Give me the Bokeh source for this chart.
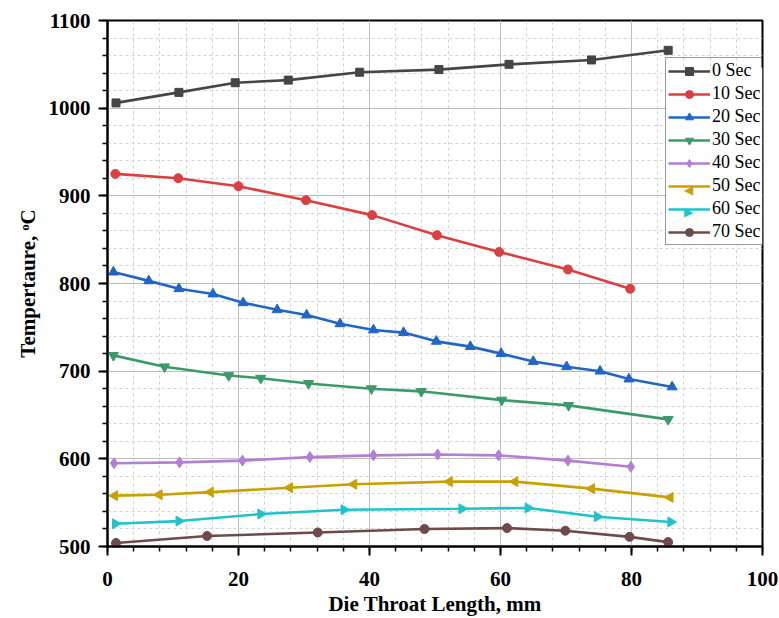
import math
from bokeh.plotting import figure
from bokeh.models import SingleIntervalTicker, Range1d, Legend, Label, BoxAnnotation
from bokeh.embed import file_html
from bokeh.resources import INLINE

# ---- data ----
series_names = ["0 Sec", "10 Sec", "20 Sec", "30 Sec", "40 Sec", "50 Sec", "60 Sec", "70 Sec"]

x0 = [1.3, 10.9, 19.5, 27.6, 38.5, 50.6, 61.3, 73.9, 85.6]
t0 = [1006, 1018, 1029, 1032, 1041, 1044, 1050, 1055, 1066]

x10 = [1.2, 10.8, 20.0, 30.3, 40.4, 50.3, 59.8, 70.3, 79.8]
t10 = [925, 920, 911, 895, 878, 855, 836, 816, 794]

x20 = [0.9, 6.3, 10.9, 16.1, 20.7, 25.9, 30.4, 35.5, 40.6, 45.2, 50.2, 55.4, 60.1, 65.0, 70.1, 75.2, 79.6, 86.2]
t20 = [813, 803, 794, 788, 778, 770, 764, 754, 747, 744, 734, 728, 720, 711, 705, 700, 691, 682]

x30 = [0.9, 8.7, 18.5, 23.4, 30.7, 40.3, 47.9, 60.2, 70.4, 85.6]
t30 = [718, 705, 695, 692, 686, 680, 677, 667, 661, 645]

x40 = [1.0, 11.0, 20.6, 30.9, 40.6, 50.4, 59.7, 70.3, 79.9]
t40 = [595, 596, 598, 602, 604, 605, 604, 598, 591]

x50 = [1.1, 7.9, 15.7, 27.8, 37.6, 52.2, 62.2, 73.9, 85.9]
t50 = [558, 559, 562, 567, 571, 574, 574, 566, 556]

x60 = [1.2, 10.9, 23.4, 36.1, 54.1, 64.2, 74.8, 86.0]
t60 = [526, 529, 537, 542, 543, 544, 534, 528]

x70 = [1.3, 15.2, 32.1, 48.4, 61.0, 69.9, 79.7, 85.6]
t70 = [504, 512, 516, 520, 521, 518, 511, 505]

xs = [x0, x10, x20, x30, x40, x50, x60, x70]
ts = [t0, t10, t20, t30, t40, t50, t60, t70]

colors = ["#454545", "#d9403f", "#2166c4", "#3c9a6a", "#b27fd4", "#c8a000", "#1ec3cc", "#6e4b4b"]
markers = ["square", "circle", "triangle", "inverted_triangle", "diamond", "triangle", "triangle", "circle"]
angles = [0, 0, 0, 0, 0, math.pi / 2, -math.pi / 2, 0]
sizes = [8, 9, 10, 10, 11, 10, 10, 9]
# rotated markers cannot be shown rotated by Legend, so draw them as symbols there
legend_symbols = [None, None, None, None, None, "\u25c0", "\u25b6", None]

FONT = "Liberation Serif"

p = figure(width=779, height=618, output_backend="svg", toolbar_location=None,
           x_range=Range1d(0, 100), y_range=Range1d(500, 1100),
           min_border_left=107, min_border_right=17, min_border_top=20, min_border_bottom=70)

p.background_fill_color = "white"
p.border_fill_color = "white"
p.outline_line_color = "black"
p.outline_line_width = 2
p.outline_line_alpha = 1.0

p.xaxis.ticker = SingleIntervalTicker(interval=20, num_minor_ticks=5)
p.yaxis.ticker = SingleIntervalTicker(interval=100, num_minor_ticks=5)

for ax in (p.xaxis[0], p.yaxis[0]):
    ax.axis_line_color = "black"
    ax.axis_line_width = 2
    ax.major_tick_line_color = "black"
    ax.major_tick_line_width = 2
    ax.minor_tick_line_color = "black"
    ax.minor_tick_line_width = 1.5
    ax.major_tick_out = 9
    ax.major_tick_in = 0
    ax.minor_tick_out = 5
    ax.minor_tick_in = 0
    ax.major_label_text_font = FONT
    ax.major_label_text_font_style = "bold"
    ax.major_label_text_font_size = "21px"
    ax.major_label_text_color = "black"
    ax.axis_label_text_font = FONT
    ax.axis_label_text_font_style = "bold"
    ax.axis_label_text_font_size = "21px"
    ax.axis_label_text_color = "black"

p.xaxis.axis_label = "Die Throat Length, mm"
p.yaxis.axis_label = "Tempertaure, \u1d52C"
p.xaxis.major_label_standoff = 16
p.xaxis.axis_label_standoff = 3
p.yaxis.major_label_standoff = 8
p.yaxis.axis_label_standoff = 6

for g in (p.xgrid[0], p.ygrid[0]):
    g.grid_line_color = "#bdbdbd"
    g.grid_line_width = 1
    g.minor_grid_line_color = "#d2d2d2"
    g.minor_grid_line_dash = "3 3"
    g.minor_grid_line_width = 1

LEG_X, LEG_Y = 558, 301
PAD, ROW_H, SPACING, GLYPH_W, LEG_W = 2, 20, 2, 42, 97
n_rows = len(series_names)
leg_h = 2 * PAD + n_rows * ROW_H + (n_rows - 1) * SPACING

# white backing for the legend, drawn under the data so the symbols below can show
p.add_layout(BoxAnnotation(left=LEG_X, right=LEG_X + LEG_W, bottom=LEG_Y, top=LEG_Y + leg_h,
                           left_units="screen", right_units="screen",
                           bottom_units="screen", top_units="screen",
                           fill_color="white", fill_alpha=1.0, line_alpha=0,
                           level="underlay"), "center")

legend_items = []
symbol_labels = []
for i, (name, x, t, c, m, a, s, sym) in enumerate(
        zip(series_names, xs, ts, colors, markers, angles, sizes, legend_symbols)):
    r1 = p.line(x, t, line_color=c, line_width=2.6)
    r2 = p.scatter(x, t, marker=m, angle=a, size=s, fill_color=c, line_color=c)
    if sym is None:
        legend_items.append((name, [r1, r2]))
    else:
        legend_items.append((name, [r1]))
        cy = LEG_Y + leg_h - PAD - ROW_H / 2 - i * (ROW_H + SPACING)
        cx = LEG_X + PAD + GLYPH_W / 2
        symbol_labels.append(Label(x=cx, y=cy, x_units="screen", y_units="screen", text=sym,
                                   text_align="center", text_baseline="middle",
                                   text_font="DejaVu Sans", text_font_size="12px",
                                   text_color=c))

legend = Legend(items=legend_items, location=(LEG_X, LEG_Y))
legend.label_text_font = FONT
legend.label_text_font_size = "18px"
legend.label_text_color = "black"
legend.glyph_width = GLYPH_W
legend.glyph_height = ROW_H
legend.label_height = ROW_H
legend.label_standoff = 2
legend.spacing = SPACING
legend.padding = PAD
legend.margin = 0
legend.border_line_color = "#333333"
legend.border_line_width = 1
legend.background_fill_alpha = 0.0
p.add_layout(legend, "center")
for lab in symbol_labels:
    p.add_layout(lab, "center")

open("out.html", "w").write(file_html(p, INLINE))
